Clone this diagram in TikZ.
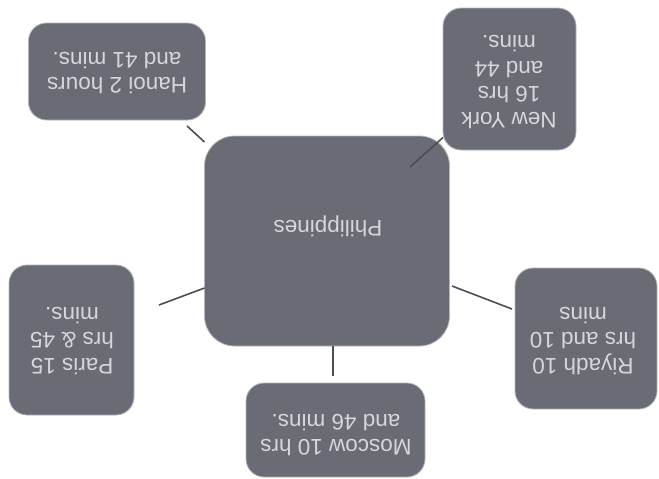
\documentclass[tikz,border=0pt]{standalone}
\usepackage{fontspec}
\setmainfont{Liberation Sans}
\definecolor{boxfill}{HTML}{696C75}
\definecolor{boxedge}{HTML}{B4B6BB}
\definecolor{boxtext}{HTML}{D6D7DA}
\definecolor{linkcol}{HTML}{4B4E55}
\begin{document}
\begin{tikzpicture}[x=1pt,y=-1pt,
  bubble/.style={draw=boxedge,line width=0.8pt,fill=boxfill,inner sep=0pt,rounded corners=#1},
  bubble/.default=18pt,
  label text/.style={text=boxtext,rotate=180,align=center,inner sep=0pt,
    font=\fontsize{22.5}{25.5}\selectfont},
  link/.style={draw=linkcol,line width=1.6pt}]
\useasboundingbox (0,0) rectangle (659,479);
% boxes
\node[bubble=30pt,minimum width=245pt,minimum height=210pt] (phil) at (327,241) {};
\node[bubble,minimum width=177pt,minimum height=97pt] (hanoi) at (117,71.5) {};
\node[bubble,minimum width=133pt,minimum height=142pt] (ny) at (509.5,79) {};
\node[bubble,minimum width=142pt,minimum height=141pt] (riyadh) at (586,338.5) {};
\node[bubble,minimum width=179pt,minimum height=94pt] (moscow) at (335.5,430) {};
\node[bubble,minimum width=125pt,minimum height=150pt] (paris) at (71.5,340) {};
% texts
\node[label text] (philtext) at (328,226) {Philippines};
\node[label text] (hanoitext) at (117,73) {Hanoi 2 hours\\and 41 mins.};
\node[label text] (nytext) at (509,82) {New York\\16 hrs\\and 44\\mins.};
\node[label text] (riyadhtext) at (583,341) {Riyadh 10\\hrs and 10\\mins};
\node[label text] (moscowtext) at (336,435) {Moscow 10 hrs\\and 46 mins.};
\node[label text] (paristext) at (72,341) {Paris 15\\hrs \& 45\\mins.};
% connector end points
\coordinate (hanoiA) at (187,126);
\coordinate (hanoiB) at (204.5,142);
\coordinate (nyA) at (443,137.5);
\coordinate (nyB) at (410,167);
\coordinate (riyadhA) at (452,286);
\coordinate (riyadhB) at (512,309);
\coordinate (moscowA) at (333,346);
\coordinate (moscowB) at (333,376);
\coordinate (parisA) at (204.5,288);
\coordinate (parisB) at (159,305);
% connectors
\draw[link] (hanoiA) -- (hanoiB);
\draw[link] (nyA) -- (nyB);
\draw[link] (riyadhA) -- (riyadhB);
\draw[link] (moscowA) -- (moscowB);
\draw[link] (parisA) -- (parisB);
\end{tikzpicture}
\end{document}
